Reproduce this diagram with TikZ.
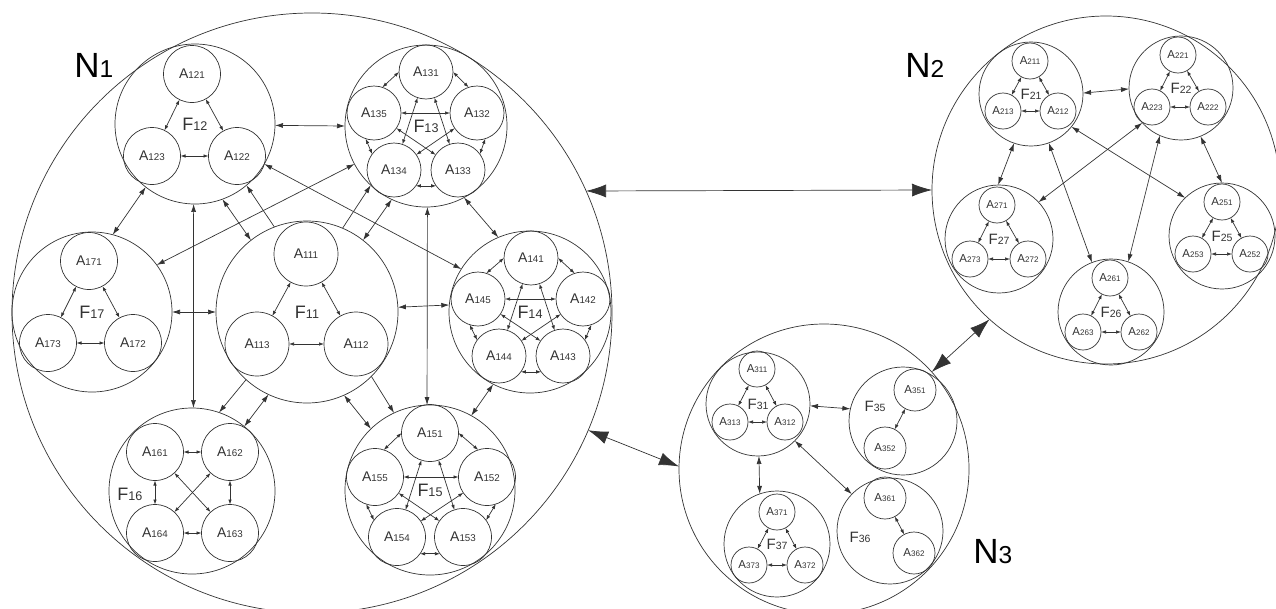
\documentclass[tikz,border=0pt]{standalone}
\usepackage{fontspec}
\setmainfont{Liberation Sans}
\usepackage{tikz}
\usetikzlibrary{arrows.meta}
\newcommand\idx[1]{\scalebox{0.7}{#1}}

\begin{document}
\begin{tikzpicture}[x=1pt, y=-1pt, line width=0.7pt, color=black!80,
    ring/.style={draw, circle, inner sep=0, outer sep=0},
    fam/.style={ring, font=\fontsize{18}{20}\selectfont},
    famsm/.style={ring, font=\fontsize{15}{17}\selectfont},
    agt/.style={ring, minimum size=57, font=\fontsize{14}{16}\selectfont},
    agtsm/.style={ring, minimum size=36, font=\fontsize{11.5}{13}\selectfont},
    title/.style={anchor=base west, inner sep=0, text=black, font=\fontsize{35}{37}\selectfont},
    alink/.style={<->, >={Latex[length=5pt,width=3.5pt]}},
    flink/.style={<->, >={Latex[length=8pt,width=5pt]}},
    fone/.style={->, >={Latex[length=8pt,width=5pt]}},
    nlink/.style={<->, >={Latex[length=20pt,width=13pt]}}]
                \useasboundingbox (0,0) rectangle (1276,608);

                \node (n1) [ring, minimum size=600] at (312,313) {};
                \node (n2) [ring, minimum size=348] at (1106,190) {};
                \node (n3) [ring, minimum size=290] at (824,469) {};
                \node (t1) [title] at (74,77) {N\idx{1}};
                \node (t2) [title] at (905,77) {N\idx{2}};
                \node (t3) [title] at (973,563) {N\idx{3}};

                \node (f11) [fam, minimum size=182] at (307,312) {F\idx{11}};
                \node (f12) [fam, minimum size=160] at (195,124) {F\idx{12}};
                \node (f13) [fam, minimum size=162] at (426,126) {F\idx{13}};
                \node (f14) [fam, minimum size=162] at (530,312) {F\idx{14}};
                \node (f15) [fam, minimum size=170] at (430,490) {F\idx{15}};
                \node (f16) [fam, minimum size=166] at (192,491) {};
                \node (l16) [font=\fontsize{18}{20}\selectfont] at (130,494) {F\idx{16}};
                \node (f17) [fam, minimum size=160] at (92,312) {F\idx{17}};

                \node (a111) [agt, minimum size=64] at (306,254) {A\idx{111}};
                \node (a112) [agt, minimum size=64] at (356,344) {A\idx{112}};
                \node (a113) [agt, minimum size=64] at (257,344) {A\idx{113}};
                \node (a121) [agt] at (192,74) {A\idx{121}};
                \node (a122) [agt] at (237,156) {A\idx{122}};
                \node (a123) [agt] at (152,156) {A\idx{123}};
                \node (a131) [agt, minimum size=54] at (426,72) {A\idx{131}};
                \node (a132) [agt, minimum size=54] at (477,113) {A\idx{132}};
                \node (a133) [agt, minimum size=54] at (458,170) {A\idx{133}};
                \node (a134) [agt, minimum size=54] at (394,170) {A\idx{134}};
                \node (a135) [agt, minimum size=54] at (374,113) {A\idx{135}};
                \node (a141) [agt, minimum size=54] at (531,258) {A\idx{141}};
                \node (a142) [agt, minimum size=54] at (583,299) {A\idx{142}};
                \node (a143) [agt, minimum size=54] at (563,356) {A\idx{143}};
                \node (a144) [agt, minimum size=54] at (499,356) {A\idx{144}};
                \node (a145) [agt, minimum size=54] at (478,299) {A\idx{145}};
                \node (a151) [agt] at (430,433) {A\idx{151}};
                \node (a152) [agt] at (487,477) {A\idx{152}};
                \node (a153) [agt] at (463,537) {A\idx{153}};
                \node (a154) [agt] at (397,537) {A\idx{154}};
                \node (a155) [agt] at (375,477) {A\idx{155}};
                \node (a161) [agt] at (155,452) {A\idx{161}};
                \node (a162) [agt] at (230,452) {A\idx{162}};
                \node (a163) [agt] at (230,533) {A\idx{163}};
                \node (a164) [agt] at (155,533) {A\idx{164}};
                \node (a171) [agt] at (89,261) {A\idx{171}};
                \node (a172) [agt] at (133,343) {A\idx{172}};
                \node (a173) [agt] at (48,343) {A\idx{173}};

                \node (f21) [famsm, minimum size=104] at (1031,94) {F\idx{21}};
                \node (f22) [famsm, minimum size=104] at (1181,88) {F\idx{22}};
                \node (f25) [famsm, minimum size=106] at (1222,236) {F\idx{25}};
                \node (f26) [famsm, minimum size=106] at (1111,312) {F\idx{26}};
                \node (f27) [famsm, minimum size=108] at (999,239) {F\idx{27}};

                \node (a211) [agtsm] at (1030,61) {A\idx{211}};
                \node (a212) [agtsm] at (1058,111) {A\idx{212}};
                \node (a213) [agtsm] at (1003,111) {A\idx{213}};
                \node (a221) [agtsm] at (1178,55) {A\idx{221}};
                \node (a222) [agtsm] at (1208,107) {A\idx{222}};
                \node (a223) [agtsm] at (1152,107) {A\idx{223}};
                \node (a251) [agtsm] at (1222,202) {A\idx{251}};
                \node (a252) [agtsm] at (1250,254) {A\idx{252}};
                \node (a253) [agtsm] at (1193,254) {A\idx{253}};
                \node (a261) [agtsm] at (1110,278) {A\idx{261}};
                \node (a262) [agtsm] at (1139,332) {A\idx{262}};
                \node (a263) [agtsm] at (1083,332) {A\idx{263}};
                \node (a271) [agtsm] at (997,205) {A\idx{271}};
                \node (a272) [agtsm] at (1028,259) {A\idx{272}};
                \node (a273) [agtsm] at (970,259) {A\idx{273}};

                \node (f31) [famsm, minimum size=104] at (758,404) {F\idx{31}};
                \node (f35) [famsm, minimum size=108] at (903,421) {};
                \node (l35) [font=\fontsize{15}{17}\selectfont] at (875,406) {F\idx{35}};
                \node (f36) [famsm, minimum size=106] at (890,531) {};
                \node (l36) [font=\fontsize{15}{17}\selectfont] at (860,537) {F\idx{36}};
                \node (f37) [famsm, minimum size=106] at (777,544) {F\idx{37}};

                \node (a311) [agtsm] at (757,369) {A\idx{311}};
                \node (a312) [agtsm] at (785,422) {A\idx{312}};
                \node (a313) [agtsm] at (730,422) {A\idx{313}};
                \node (a351) [agtsm, minimum size=42] at (915,390) {A\idx{351}};
                \node (a352) [agtsm, minimum size=42] at (885,448) {A\idx{352}};
                \node (a361) [agtsm, minimum size=42] at (885,498) {A\idx{361}};
                \node (a362) [agtsm, minimum size=42] at (914,553) {A\idx{362}};
                \node (a371) [agtsm] at (777,512) {A\idx{371}};
                \node (a372) [agtsm] at (805,565) {A\idx{372}};
                \node (a373) [agtsm] at (749,565) {A\idx{373}};

                \path[alink] (a111) edge (a112) edge (a113) (a112) edge (a113);
                \path[alink] (a121) edge (a122) edge (a123) (a122) edge (a123);
                \path[alink] (a171) edge (a172) edge (a173) (a172) edge (a173);
                \path[alink] (a132.108) edge (a131.0) (a131.180) edge (a135.72) (a135.252) edge (a134.144)
                             (a134.324) edge (a133.216) (a133.36) edge (a132.288);
                \path[alink] (a131) edge (a133) edge (a134) (a132) edge (a134) edge (a135) (a133) edge (a135);
                \path[alink] (a142.108) edge (a141.0) (a141.180) edge (a145.72) (a145.252) edge (a144.144)
                             (a144.324) edge (a143.216) (a143.36) edge (a142.288);
                \path[alink] (a141) edge (a143) edge (a144) (a142) edge (a144) edge (a145) (a143) edge (a145);
                \path[alink] (a152.108) edge (a151.0) (a151.180) edge (a155.72) (a155.252) edge (a154.144)
                             (a154.324) edge (a153.216) (a153.36) edge (a152.288);
                \path[alink] (a151) edge (a153) edge (a154) (a152) edge (a154) edge (a155) (a153) edge (a155);
                \path[alink] (a161) edge (a162) edge (a163) edge (a164) (a162) edge (a163) edge (a164) (a163) edge (a164);

                \path[alink] (a211) edge (a212) edge (a213) (a212) edge (a213);
                \path[alink] (a221) edge (a222) edge (a223) (a222) edge (a223);
                \path[alink] (a251) edge (a252) edge (a253) (a252) edge (a253);
                \path[alink] (a261) edge (a262) edge (a263) (a262) edge (a263);
                \path[alink] (a271) edge (a272) edge (a273) (a272) edge (a273);
                \path[alink] (a311) edge (a312) edge (a313) (a312) edge (a313);
                \path[alink] (a371) edge (a372) edge (a373) (a372) edge (a373);
                \path[alink] (a351) edge (a352) (a361) edge (a362);

                \path[flink] (f12.-1.4) edge (f13.180) (f12.-128) edge (f17.75) (f12.-70) edge (f11.128)
                             (f12.-91.4) edge (f16.89.3) (f12.-30) edge (f14.148) (f17.36) edge (f13.-152);
                \path[flink] (f11.52) edge (f13.-115) (f13.-89.3) edge (f15.92) (f13.-62) edge (f14.113)
                             (f17.0) edge (f11.180) (f11.3.8) edge (f14.175.8) (f11.-115.5) edge (f16.51)
                             (f11.-66) edge (f15.134) (f14.-117) edge (f15.61);
                \path[fone] (f11.111) edge (f12.-50) (f11.67.5) edge (f13.-133)
                            (f11.-132) edge (f16.71) (f11.-45) edge (f15.115);

                \path[flink] (f21.1) edge (f22.181) (f21.-109) edge (f27.91) (f21.-70) edge (f26.111)
                             (f22.-114) edge (f26.71) (f22.-138.5) edge (f27.43.6) (f21.-39) edge (f25.134)
                             (f22.-68) edge (f25.90);
                \path[flink] (f31.-2) edge (f35.167) (f31.-89) edge (f37.109) (f31.-45) edge (f36.136);

                \path[nlink] (n1.24.4) edge (n2.180) (n1.-23.6) edge (n3.179) (n2.-132.7) edge (n3.42.2);
            \end{tikzpicture}
\end{document}
